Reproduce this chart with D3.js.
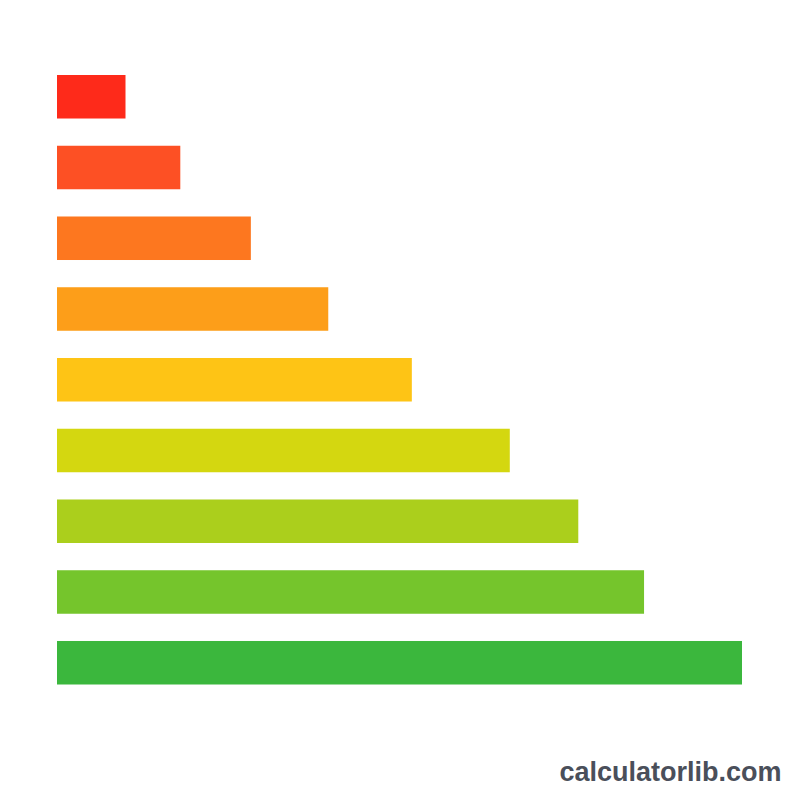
<!DOCTYPE html>
<html>
<head>
<meta charset="utf-8">
<script src="https://cdn.jsdelivr.net/npm/d3@7"></script>
<style>
  html, body { margin: 0; padding: 0; background: #ffffff; }
  svg { display: block; }
</style>
</head>
<body>
<div id="chart"></div>
<script>
// bar data, top to bottom
var categories = ["1", "2", "3", "4", "5", "6", "7", "8", "9"];
var values = [10, 18, 28.3, 39.6, 51.8, 66.1, 76.1, 85.7, 100];
var colors = ["#fe2a1a", "#fd5024", "#fd771f", "#fd9e19", "#fec415",
              "#d4d710", "#abcf1c", "#75c52c", "#3bb73d"];

var width = 800, height = 800;

var svg = d3.select("#chart").append("svg")
    .attr("width", width)
    .attr("height", height);

svg.append("rect")
    .attr("width", width)
    .attr("height", height)
    .attr("fill", "#ffffff");

// scales
var x = d3.scaleLinear()
    .domain([0, 100])
    .range([57, 742]);

var y = d3.scaleBand()
    .domain(categories)
    .range([75, 684.5])
    .paddingInner(0.385)
    .paddingOuter(0);

// bars
svg.selectAll("rect.bar")
    .data(values)
    .enter()
    .append("rect")
    .attr("class", "bar")
    .attr("x", x(0))
    .attr("y", function (d, i) { return y(categories[i]); })
    .attr("width", function (d) { return x(d) - x(0); })
    .attr("height", y.bandwidth())
    .attr("fill", function (d, i) { return colors[i]; });

// watermark
svg.append("text")
    .attr("x", 781.5)
    .attr("y", 781)
    .attr("text-anchor", "end")
    .attr("font-family", "'Liberation Sans', Arial, sans-serif")
    .attr("font-weight", "bold")
    .attr("font-size", 27)
    .attr("fill", "#4a4f5a")
    .text("calculatorlib.com");
</script>
</body>
</html>
